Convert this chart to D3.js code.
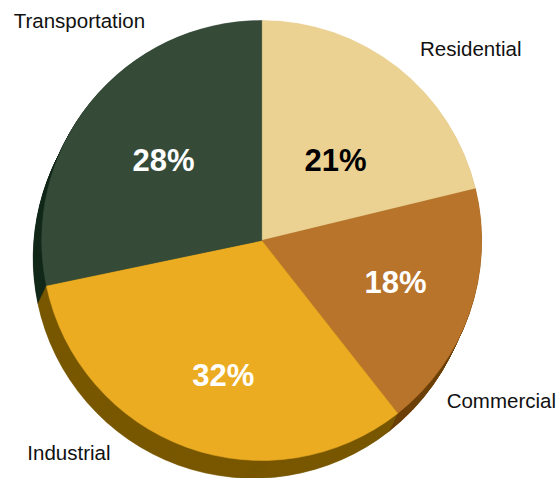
<!DOCTYPE html>
<html lang="en">
<head>
  <meta charset="UTF-8">
  <title>Energy use by sector</title>
  <script src="https://cdn.jsdelivr.net/npm/d3@7/dist/d3.min.js"></script>
  <style>
    html, body { margin: 0; padding: 0; background: #fff; }
    body { font-family: "Liberation Sans", Arial, Helvetica, sans-serif; }
    .name { font-size: 20.5px; fill: #111; text-anchor: middle; }
    .pct { font-size: 31px; font-weight: bold; text-anchor: middle; }
  </style>
</head>
<body>
  <script>
    // data
    const categories = ["Residential", "Commercial", "Industrial", "Transportation"];
    const shares = [21, 18, 32, 28];
    const pctLabels = ["21%", "18%", "32%", "28%"];

    // look
    const faceColors = ["#ebd293", "#b9742b", "#ebac22", "#354b38"];
    const sideColors = ["#8a7440", "#6b3f07", "#785800", "#13291a"];
    const pctColors = ["#000", "#fff", "#fff", "#fff"];

    const width = 560, height = 478;
    const cx = 261.7, cy = 240.5, r = 220;
    const depth = { dx: -8.5, dy: 17.7 };

    // label placement: [angle from 12 o'clock in degrees, radius]
    const pctPlace = [[42.6, 109], [107, 140], [196, 139.5], [309.3, 127]];
    const namePlace = [[47.4, 284], [123.7, 288], [222.3, 286.5], [320.4, 286]];

    const svg = d3.select("body").append("svg")
      .attr("width", width)
      .attr("height", height);

    const g = svg.append("g").attr("transform", `translate(${cx},${cy})`);

    const data = categories.map((c, i) => ({ name: c, value: shares[i], i }));
    const pie = d3.pie().value(d => d.value).sort(null);
    const arcs = pie(data);
    const arc = d3.arc().innerRadius(0).outerRadius(r);

    // extruded side, drawn back to front
    const steps = 24;
    for (let s = steps; s >= 1; s--) {
      const t = s / steps;
      g.append("g")
        .attr("transform", `translate(${depth.dx * t},${depth.dy * t})`)
        .selectAll("path")
        .data(arcs)
        .enter().append("path")
        .attr("d", arc)
        .attr("fill", d => sideColors[d.data.i])
        .attr("stroke", d => sideColors[d.data.i])
        .attr("stroke-width", 0.6);
    }

    g.append("g").attr("id", "slices")
      .selectAll("path")
      .data(arcs)
      .enter().append("path")
      .attr("d", arc)
      .attr("fill", d => faceColors[d.data.i])
      .attr("stroke", d => faceColors[d.data.i])
      .attr("stroke-width", 0.5);

    const polar = (deg, rad) => {
      const a = deg * Math.PI / 180;
      return [rad * Math.sin(a), -rad * Math.cos(a)];
    };

    g.append("g").attr("id", "pct")
      .selectAll("text")
      .data(arcs)
      .enter().append("text")
      .attr("class", "pct")
      .attr("transform", d => {
        const p = polar(...pctPlace[d.data.i]);
        return `translate(${p[0]},${p[1]})`;
      })
      .attr("dy", "0.36em")
      .attr("fill", d => pctColors[d.data.i])
      .text(d => pctLabels[d.data.i]);

    g.append("g").attr("id", "names")
      .selectAll("text")
      .data(arcs)
      .enter().append("text")
      .attr("class", "name")
      .attr("transform", d => {
        const p = polar(...namePlace[d.data.i]);
        return `translate(${p[0]},${p[1]})`;
      })
      .attr("dy", "0.36em")
      .text(d => d.data.name);
  </script>
</body>
</html>
